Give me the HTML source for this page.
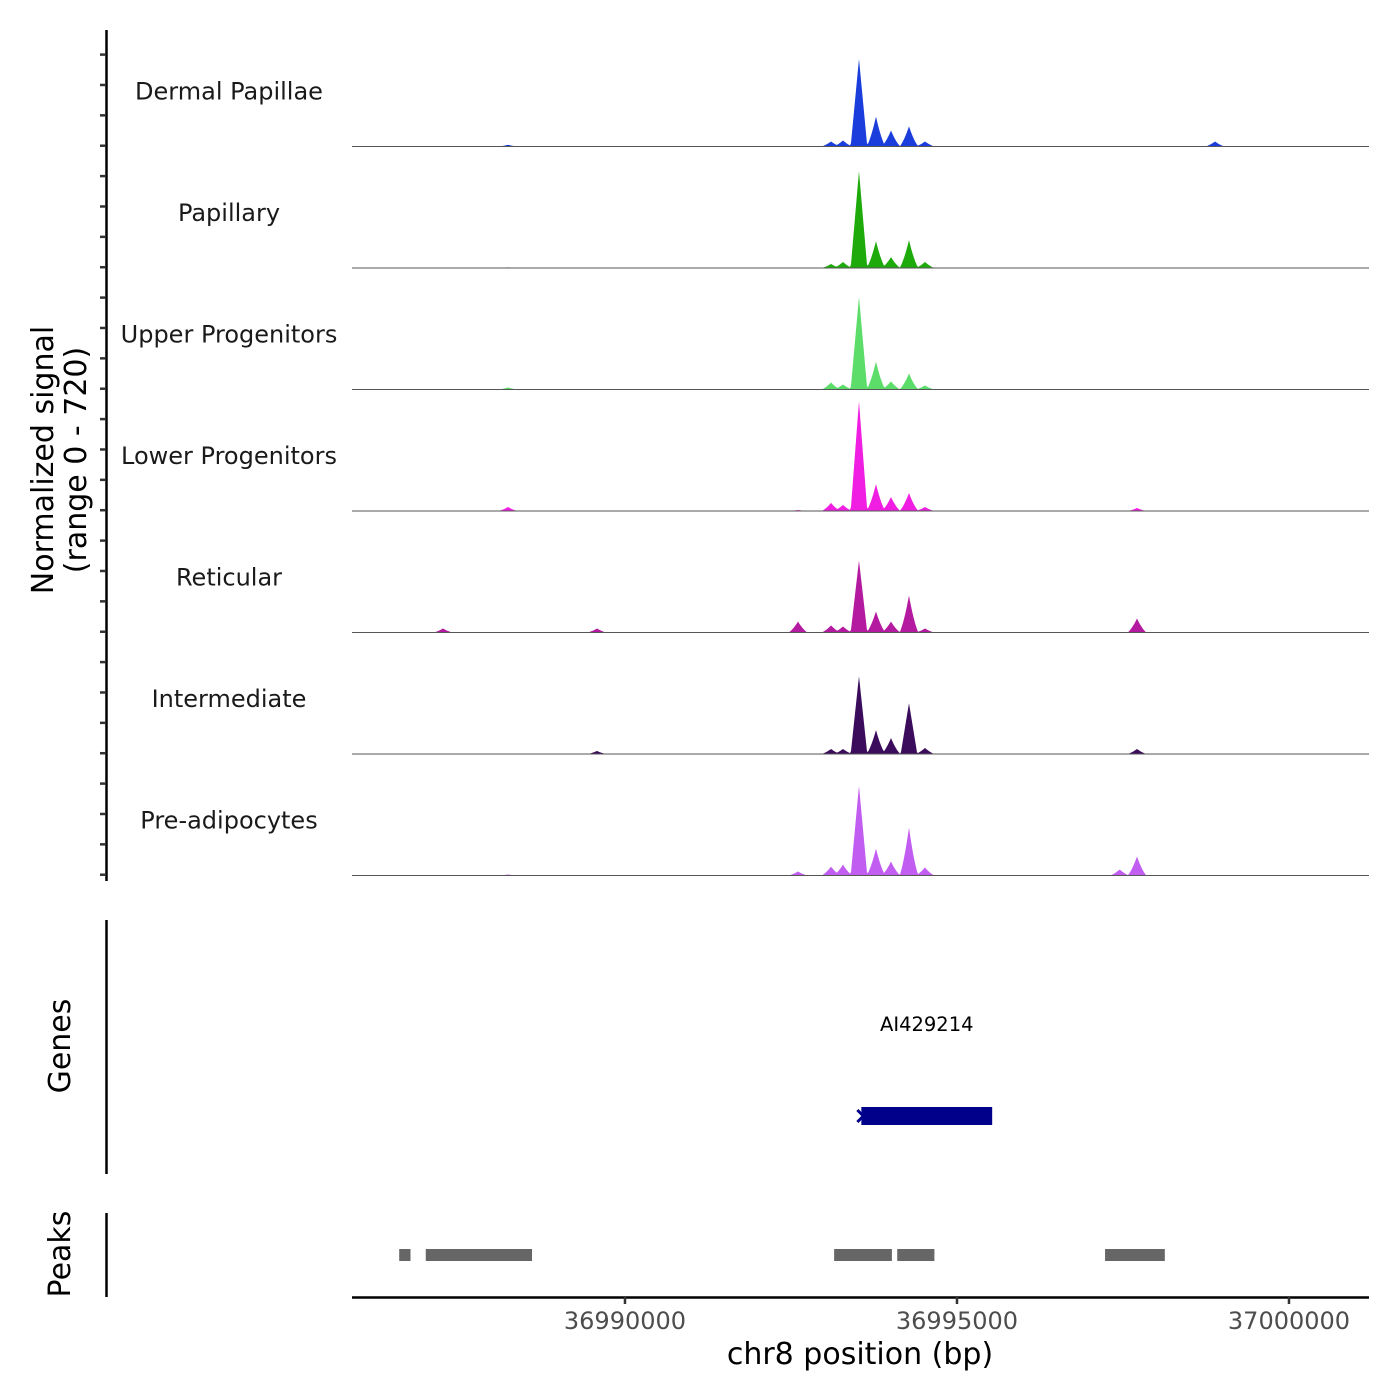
<!DOCTYPE html>
<html><head><meta charset="utf-8"><style>
html,body{margin:0;padding:0;background:#fff;}
svg{display:block;font-family:"DejaVu Sans","Liberation Sans",sans-serif;}
</style></head><body>
<svg id="chart" width="1400" height="1400" viewBox="0 0 1400 1400" xmlns="http://www.w3.org/2000/svg">
<g id="tracks"></g>
<g id="yaxis"></g>
<text transform="translate(53,460) rotate(-90)" text-anchor="middle" font-size="30" fill="#000">Normalized signal</text>
<text transform="translate(86,460) rotate(-90)" text-anchor="middle" font-size="30" fill="#000">(range 0 - 720)</text>
<line x1="106.5" y1="920" x2="106.5" y2="1174" stroke="#000" stroke-width="2.5"/>
<text transform="translate(70,1046) rotate(-90)" text-anchor="middle" font-size="30" fill="#000">Genes</text>
<g id="genes"></g>
<line x1="106.5" y1="1213" x2="106.5" y2="1297" stroke="#000" stroke-width="2.5"/>
<text transform="translate(70,1254) rotate(-90)" text-anchor="middle" font-size="30" fill="#000">Peaks</text>
<g id="peaks"></g>
<g id="xaxis"></g>
<text x="860" y="1364" text-anchor="middle" font-size="30" fill="#000">chr8 position (bp)</text>
</svg>
<script>
const NS="http://www.w3.org/2000/svg";
const xDomain=[36985889,37001205];
const xTicks=[36990000,36995000,37000000];
const yMax=720;
const trackNames=["Dermal Papillae","Papillary","Upper Progenitors","Lower Progenitors","Reticular","Intermediate","Pre-adipocytes"];
const trackColors=["#1a3ddb","#1faa0c","#5cdd6a","#f01ee2","#b31a9f","#3b0c5c","#c25df2"];
const peakPos=[36987260,36988238,36989578,36992606,36993103,36993283,36993524,36993780,36994006,36994277,36994518,36997450,36997711,36998886];
const dermalVals=[0,10,0,0,30,36,520,178,95,120,30,0,0,30];
const papillaryVals=[0,4,0,0,24,36,575,160,65,166,36,0,0,0];
const upperVals=[0,12,0,0,42,30,550,166,48,95,24,0,0,0];
const lowerVals=[0,24,0,6,48,36,652,160,83,107,24,0,18,0];
const reticularVals=[24,0,24,65,42,36,427,125,65,220,24,0,83,0];
const intermediateVals=[0,0,18,0,30,30,462,142,95,302,36,0,30,0];
const preadipoVals=[0,6,0,24,53,65,533,160,83,285,48,36,113,0];
const trackVals=[dermalVals,papillaryVals,upperVals,lowerVals,reticularVals,intermediateVals,preadipoVals];
const peakRegions=[[36986600,36986770],[36987000,36988600],[36993150,36994020],[36994100,36994660],[36997230,36998130]];
const gene={name:"AI429214",start:36993560,end:36995530};
const X0=352,X1=1369,trackTop=25,trackH=121.5;
const sx=v=>X0+(v-xDomain[0])/(xDomain[1]-xDomain[0])*(X1-X0);
const sy=(i,v)=>trackTop+(i+1)*trackH-v/yMax*trackH;
const tg=document.getElementById("tracks");
trackNames.forEach((name,i)=>{
  const vals=trackVals[i];
  const base=sy(i,0);
  let d="M"+X0+","+base;
  for(let px=X0;px<=X1;px+=1){
    const bp=xDomain[0]+(px-X0)/(X1-X0)*(xDomain[1]-xDomain[0]);
    let s=0;
    peakPos.forEach((p,k)=>{const w=vals[k]>300?125:140;const t=1-Math.abs(bp-p)/w;if(t>0)s=Math.max(s,vals[k]*t*(vals[k]>300?1:(0.6+0.4*t)));});
    d+=" L"+px+","+sy(i,s).toFixed(2);
  }
  d+=" L"+X1+","+base+" Z";
  const path=document.createElementNS(NS,"path");
  
  
  path.setAttribute("d",d);path.setAttribute("fill",trackColors[i]);
  tg.appendChild(path);
  const bl=document.createElementNS(NS,"line");
  
  
  bl.setAttribute("x1",X0);bl.setAttribute("x2",X1);bl.setAttribute("y1",base);bl.setAttribute("y2",base);
  bl.setAttribute("stroke","#555");bl.setAttribute("stroke-width","1");
  tg.appendChild(bl);
  const lab=document.createElementNS(NS,"text");
  
  
  lab.setAttribute("x",229);lab.setAttribute("y",base-47);lab.setAttribute("text-anchor","middle");
  lab.setAttribute("font-size","24");lab.setAttribute("fill","#1a1a1a");
  lab.textContent=name;tg.appendChild(lab);
});
const ya=document.getElementById("yaxis");
const al=document.createElementNS(NS,"line");


al.setAttribute("x1",106.5);al.setAttribute("x2",106.5);al.setAttribute("y1",30);al.setAttribute("y2",881);
al.setAttribute("stroke","#000");al.setAttribute("stroke-width","2.5");ya.appendChild(al);
for(let y=54.6;y<=880;y+=trackH/4){
  const t=document.createElementNS(NS,"line");
  
  
  t.setAttribute("x1",100);t.setAttribute("x2",106);t.setAttribute("y1",y);t.setAttribute("y2",y);
  t.setAttribute("stroke","#333");t.setAttribute("stroke-width","2.5");ya.appendChild(t);
}
const gg=document.getElementById("genes");
const gl=document.createElementNS(NS,"text");


gl.setAttribute("x",(sx(gene.start)+sx(gene.end))/2);gl.setAttribute("y",1031);
gl.setAttribute("text-anchor","middle");gl.setAttribute("font-size","19.5");gl.textContent=gene.name;gg.appendChild(gl);
const gr=document.createElementNS(NS,"rect");


gr.setAttribute("x",sx(gene.start));gr.setAttribute("width",sx(gene.end)-sx(gene.start));
gr.setAttribute("y",1107);gr.setAttribute("height",18);gr.setAttribute("fill","#00008b");gg.appendChild(gr);
const ga=document.createElementNS(NS,"path");


ga.setAttribute("d",`M${sx(gene.start)-4},1110 L${sx(gene.start)+2},1116 L${sx(gene.start)-4},1122`);
ga.setAttribute("stroke","#00008b");ga.setAttribute("stroke-width","3");ga.setAttribute("fill","none");gg.appendChild(ga);
const pg=document.getElementById("peaks");
peakRegions.forEach(r=>{
  const rc=document.createElementNS(NS,"rect");
  
  
  rc.setAttribute("x",sx(r[0]));rc.setAttribute("width",sx(r[1])-sx(r[0]));
  rc.setAttribute("y",1249);rc.setAttribute("height",12);rc.setAttribute("fill","#666");pg.appendChild(rc);
});
const xa=document.getElementById("xaxis");
const xl=document.createElementNS(NS,"line");


xl.setAttribute("x1",X0);xl.setAttribute("x2",X1);xl.setAttribute("y1",1297.5);xl.setAttribute("y2",1297.5);
xl.setAttribute("stroke","#000");xl.setAttribute("stroke-width","2.5");xa.appendChild(xl);
xTicks.forEach(v=>{
  const t=document.createElementNS(NS,"line");
  
  
  t.setAttribute("x1",sx(v));t.setAttribute("x2",sx(v));t.setAttribute("y1",1297);t.setAttribute("y2",1304);
  t.setAttribute("stroke","#333");t.setAttribute("stroke-width","2.5");xa.appendChild(t);
  const l=document.createElementNS(NS,"text");
  
  
  l.setAttribute("x",sx(v));l.setAttribute("y",1329);l.setAttribute("text-anchor","middle");
  l.setAttribute("font-size","24");l.setAttribute("fill","#4d4d4d");l.textContent=v;xa.appendChild(l);
});
</script>
</body></html>
